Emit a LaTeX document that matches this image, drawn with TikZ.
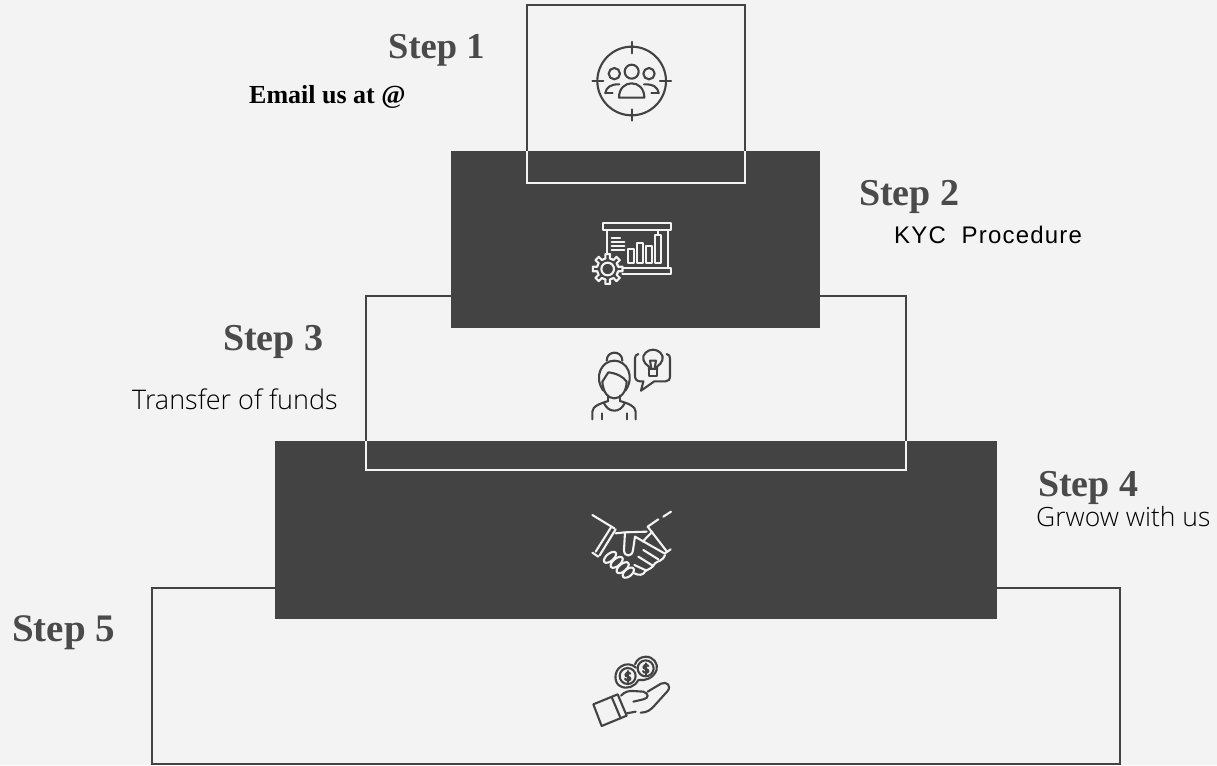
\documentclass[tikz,border=0pt]{standalone}
\usepackage{fontspec}
\setmainfont{Liberation Serif}
\newfontfamily\osfont{Open Sans Light}
\newfontfamily\kycfont[LetterSpace=5]{Liberation Sans}
\definecolor{bgc}{HTML}{F3F3F3}
\definecolor{darkc}{HTML}{434343}
\definecolor{stepc}{HTML}{4A4A4A}
\tikzset{
  stepbox/.style={line width=2pt,draw=darkc},
  whiteline/.style={line width=2pt,draw=bgc},
  darkblock/.style={fill=darkc},
  steplabel/.style={anchor=base west,inner sep=0pt,text=stepc,font=\fontsize{38}{38}\selectfont\bfseries},
  desc/.style={anchor=base west,inner sep=0pt,text=black},
  iconz/.style={x=.3333pt,y=-.3333pt,line width=2.1pt,line cap=round,line join=round},
}
\begin{document}
\begin{tikzpicture}[x=1pt,y=-1pt]
\useasboundingbox (0,0) rectangle (1217,765);
\fill[bgc] (0,0) rectangle (1217,765);
% outlined steps
\draw[stepbox] (527,151) -- (527,5.5) -- (745,5.5) -- (745,151);
\draw[stepbox] (366,441) -- (366,296) -- (906,296) -- (906,441);
\draw[stepbox] (152,587.5) rectangle (1120,764);
% dark blocks
\fill[darkblock] (451,151) rectangle (820,328);
\fill[darkblock] (275,441) rectangle (997,619);
% white parts of outlines
\draw[whiteline] (527,151) -- (527,182.5) -- (745,182.5) -- (745,151);
\draw[whiteline] (366,441) -- (366,469.5) -- (906,469.5) -- (906,441);
% labels
\node[steplabel,font=\fontsize{36.5}{36.5}\selectfont\bfseries] (s1) at (388,59) {Step 1};
\node[steplabel] (s2) at (859,205) {Step 2};
\node[steplabel] (s3) at (223,350) {Step 3};
\node[steplabel] (s4) at (1038,496) {Step 4};
\node[steplabel,font=\fontsize{39}{39}\selectfont\bfseries] (s5) at (12,641) {Step 5};
\node[desc,font=\fontsize{26}{26}\selectfont\bfseries] (d1) at (249,103) {Email us at @};
\node[desc,font=\fontsize{24}{24}\kycfont] (d2) at (894,243) {KYC\ \ Procedure};
\node[desc,font=\fontsize{27}{27}\osfont] (d3) at (132,409) {Transfer of funds};
\node[desc,font=\fontsize{26.5}{26.5}\osfont] (d4) at (1036,526) {Grwow with us};
% icon 1: target and people
\begin{scope}[shift={(580,30)},iconz,draw=darkc]
\draw (155,153) circle[radius=103];
\draw (155,36) -- (155,70) (155,238) -- (155,272) (37,153) -- (70,153) (240,153) -- (273,153);
\draw (155,125) circle[radius=21] (103,131) circle[radius=17] (207,131) circle[radius=17];
\draw (117,203) .. controls (117,175) and (135,160) .. (155,160) .. controls (175,160) and (193,175) .. (193,203) -- cycle;
\draw (76,190) .. controls (78,172) and (92,162) .. (118,163);
\draw (76,190) -- (98,190);
\draw (236,190) .. controls (234,172) and (220,162) .. (192,163);
\draw (236,190) -- (214,190);
\end{scope}
% icon 2: presentation with gear
\begin{scope}[shift={(575,210)},iconz,draw=bgc]
\draw (85,40) rectangle (288,60);
\draw (95,60) -- (95,132) (278,60) -- (278,175) (248,60) -- (248,72);
\draw (145,175) -- (288,175) -- (288,192) -- (142,192);
\draw (160,118) rectangle (178,158) (187,98) rectangle (205,158) (214,108) rectangle (232,158) (241,75) rectangle (259,158);
\draw (110,85) -- (135,85) (110,97) -- (148,97) (110,108) -- (148,108) (110,120) -- (148,120);
\begin{scope}[shift={(98,177)}]
\foreach \a in {0,45,...,315}{
  \draw (\a-24:32) -- (\a-12:32) -- (\a-9:45) -- (\a+9:45) -- (\a+12:32) -- (\a+24:32);
}
\draw (0,0) circle[radius=19];
\end{scope}
\end{scope}
% icon 3: person with idea
\begin{scope}[shift={(575,340)},iconz,draw=darkc]
\draw (85,152) .. controls (55,110) and (80,62) .. (118,62) .. controls (156,62) and (181,110) .. (151,152);
\draw (95,62) .. controls (95,30) and (142,30) .. (142,62);
\draw (82,125) .. controls (84,158) and (100,175) .. (118,175) .. controls (136,175) and (154,158) .. (155,125);
\draw (82,125) -- (100,97) .. controls (125,100) and (145,110) .. (155,125);
\draw (100,166) -- (100,183) (135,166) -- (135,183);
\draw (52,238) -- (52,215) .. controls (52,198) and (78,190) .. (100,183);
\draw (135,183) .. controls (158,190) and (182,198) .. (182,215) -- (182,238);
\draw (87,190) .. controls (95,205) and (105,212) .. (118,212) .. controls (131,212) and (141,205) .. (149,190);
\draw (80,220) -- (80,238) (155,220) -- (155,238);
\draw (190,42) .. controls (182,44) and (180,48) .. (180,56) -- (180,108) .. controls (180,118) and (186,124) .. (196,124) -- (205,124) -- (198,152) -- (238,124) -- (272,124) .. controls (281,124) and (285,118) .. (285,108) -- (285,56) .. controls (285,48) and (283,44) .. (275,42);
\draw (222,88) -- (222,80) .. controls (205,70) and (198,50) .. (212,38) .. controls (225,26) and (243,26) .. (256,38) .. controls (270,50) and (262,70) .. (246,80) -- (246,88);
\draw (222,88) rectangle (246,108);
\draw (225,62) -- (229,85) (243,62) -- (239,85) (225,62) -- (243,62);
\end{scope}
% icon 4: handshake
\begin{scope}[shift={(575,500)},iconz,draw=bgc]
\draw (52,45) -- (118,85);
\draw (288,35) -- (265,50) (250,58) -- (218,80);
\draw (108,82) -- (62,155) (122,88) -- (74,166) (52,158) -- (70,170);
\draw (218,80) -- (276,155) (287,148) -- (270,160);
\draw (122,100) -- (150,97) -- (215,95);
\draw (150,97) -- (147,150) .. controls (147,172) and (172,172) .. (174,150) -- (180,110) -- (268,160);
\draw (203,125) -- (232,95);
\draw (205,150) -- (250,178) (190,170) -- (235,198) (178,195) -- (215,212);
\draw (270,165) .. controls (262,185) and (248,182) .. (240,190) .. controls (232,205) and (220,208) .. (212,212) .. controls (205,228) and (190,226) .. (178,220);
\draw[rotate around={40:(105,172)}] (105,172) ellipse[x radius=22,y radius=11];
\draw[rotate around={40:(125,187)}] (125,187) ellipse[x radius=22,y radius=11];
\draw[rotate around={40:(143,203)}] (143,203) ellipse[x radius=22,y radius=11];
\draw[rotate around={40:(160,218)}] (160,218) ellipse[x radius=20,y radius=11];
\end{scope}
% icon 5: hand with coins
\begin{scope}[shift={(575,645)},iconz,draw=darkc]
\draw (158,93) circle[radius=24];
\draw (183,68) .. controls (170,55) and (150,55) .. (137,65) .. controls (115,80) and (118,115) .. (135,123) .. controls (155,135) and (180,125) .. (190,105);
\draw (212,70) circle[radius=24];
\draw (192,105) .. controls (210,108) and (235,100) .. (245,75) .. controls (250,55) and (235,35) .. (212,35) .. controls (195,36) and (185,45) .. (180,58);
\draw (166,86) .. controls (160,80) and (150,83) .. (151,90) .. controls (152,96) and (166,94) .. (166,101) .. controls (166,108) and (153,108) .. (150,101);
\draw (158,78) -- (158,112);
\draw (220,63) .. controls (214,57) and (204,60) .. (205,67) .. controls (206,73) and (220,71) .. (220,78) .. controls (220,85) and (207,85) .. (204,78);
\draw (212,55) -- (212,89);
\draw (55,178) -- (128,148) -- (155,212) -- (80,243) -- cycle;
\draw (110,156) -- (137,220);
\draw (138,152) .. controls (150,140) and (160,137) .. (175,138) -- (205,140) .. controls (222,145) and (222,160) .. (205,163) -- (175,170);
\draw (218,140) -- (258,116) .. controls (275,108) and (290,122) .. (278,138) -- (240,180) .. controls (228,195) and (215,203) .. (197,203);
\draw (155,205) -- (182,200);
\end{scope}
\end{tikzpicture}
\end{document}
